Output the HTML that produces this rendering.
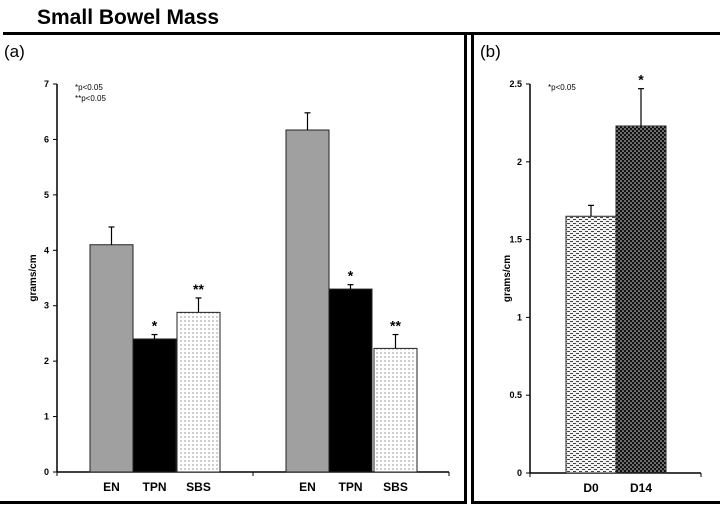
<!DOCTYPE html>
<html><head><meta charset="utf-8"><style>
body{margin:0;background:#fff;width:720px;height:508px;overflow:hidden}
svg{display:block;font-family:"Liberation Sans",Arial,sans-serif}
</style></head><body>
<svg width="720" height="508" viewBox="0 0 720 508">
<defs>
<pattern id="dots" width="4" height="4" patternUnits="userSpaceOnUse"><rect width="4" height="4" fill="#fff"/><circle cx="1" cy="1" r="0.6" fill="#555"/></pattern>
<pattern id="dash" width="6" height="4" patternUnits="userSpaceOnUse"><rect width="6" height="4" fill="#f2f2f2"/><rect x="0" y="1" width="3" height="1" fill="#444"/><rect x="3" y="3" width="3" height="1" fill="#444"/></pattern>
<pattern id="dark" width="4" height="4" patternUnits="userSpaceOnUse"><rect width="4" height="4" fill="#111"/><circle cx="1" cy="1" r="0.8" fill="#ddd"/><circle cx="3" cy="3" r="0.8" fill="#ddd"/></pattern>
</defs>
<text x="37" y="24" font-size="21" font-weight="bold">Small Bowel Mass</text>
<rect x="3" y="32" width="717" height="3" fill="#000"/>
<rect x="464" y="34" width="3" height="470" fill="#000"/>
<rect x="471" y="34" width="3" height="470" fill="#000"/>
<rect x="0" y="501" width="467" height="3" fill="#000"/>
<rect x="471" y="501" width="249" height="3" fill="#000"/>
<text x="4" y="57" font-size="17">(a)</text>
<text x="480" y="57" font-size="17">(b)</text>
<g id="ga"></g><g id="gb"></g>
</svg>
<script>
const aCats=["EN","TPN","SBS","EN","TPN","SBS"];
const aVals=[4.1,2.4,2.88,6.17,3.3,2.23];
const aErr=[0.32,0.08,0.26,0.31,0.08,0.25];
const aSig=["","*","**","","*","**"];
const aTicks=[0,1,2,3,4,5,6,7];
const bCats=["D0","D14"];
const bVals=[1.65,2.23];
const bErr=[0.07,0.24];
const bSig=["","*"];
const bTicks=[0,0.5,1,1.5,2,2.5];
const NS="http://www.w3.org/2000/svg";
function mk(p,t,a,txt){const e=document.createElementNS(NS,t);for(const k in a)e.setAttribute(k,a[k]);if(txt!=null)e.textContent=txt;p.appendChild(e);return e;}
function chart(g,o){
 const y=v=>o.y0-(v/o.max)*(o.y0-o.yTop);
 let ax=mk(g,'line',{x1:o.ax,y1:o.yTop,x2:o.ax,y2:o.y0,stroke:'#000','stroke-width':1.5});
 
 let xl=mk(g,'line',{x1:o.ax,y1:o.y0,x2:o.xEnd,y2:o.y0,stroke:'#000','stroke-width':1.5});
 
 o.ticks.forEach(t=>{
  mk(g,'line',{x1:o.ax-4,y1:y(t),x2:o.ax,y2:y(t),stroke:'#000'});
  let tl=mk(g,'text',{x:o.ax-8,y:y(t)+3,'font-size':9,'font-weight':'bold','text-anchor':'end'},String(t));
  
 });
 o.xticks.forEach(x=>mk(g,'line',{x1:x,y1:o.y0,x2:x,y2:o.y0+4,stroke:'#000'}));
 o.cats.forEach((c,i)=>{
  const x=o.bx[i],w=o.bw,v=o.vals[i],top=y(v),et=y(v+o.err[i]);
  let b=mk(g,'rect',{x:x,y:top,width:w,height:o.y0-top,fill:o.fills[i],stroke:'#222','stroke-width':1});
  
  mk(g,'line',{x1:x+w/2,y1:top,x2:x+w/2,y2:et,stroke:'#000','stroke-width':1.2});
  mk(g,'line',{x1:x+w/2-3,y1:et,x2:x+w/2+3,y2:et,stroke:'#000','stroke-width':1.2});
  if(o.sig[i]){let s=mk(g,'text',{x:x+w/2,y:et-4,'font-size':14,'font-weight':'bold','text-anchor':'middle'},o.sig[i]);
   }
  let l=mk(g,'text',{x:x+w/2,y:o.y0+19,'font-size':12,'font-weight':'bold','text-anchor':'middle'},c);
  
 });
 let yt=mk(g,'text',{x:0,y:0,'font-size':10,'font-weight':'bold','text-anchor':'middle',transform:`translate(${o.ylx},${(o.y0+o.yTop)/2}) rotate(-90)`},'grams/cm');
 
 o.notes.forEach((n,i)=>{let t=mk(g,'text',{x:o.ax+18,y:o.yTop+6+i*11,'font-size':8},n);
  });
}
chart(document.getElementById('ga'),{ax:57,xEnd:449,y0:472,yTop:84,max:7,ticks:aTicks,cats:aCats,vals:aVals,err:aErr,sig:aSig,
 bx:[90,133,177,286,329,374],bw:43,fills:['#a0a0a0','#000','url(#dots)','#a0a0a0','#000','url(#dots)'],xticks:[57,253,449],ylx:36,notes:['*p<0.05','**p<0.05']});
chart(document.getElementById('gb'),{ax:530,xEnd:701,y0:473,yTop:84,max:2.5,ticks:bTicks,cats:bCats,vals:bVals,err:bErr,sig:bSig,
 bx:[566,616],bw:50,fills:['url(#dash)','url(#dark)'],xticks:[530,701],ylx:510,notes:['*p<0.05']});
</script>
</body></html>
